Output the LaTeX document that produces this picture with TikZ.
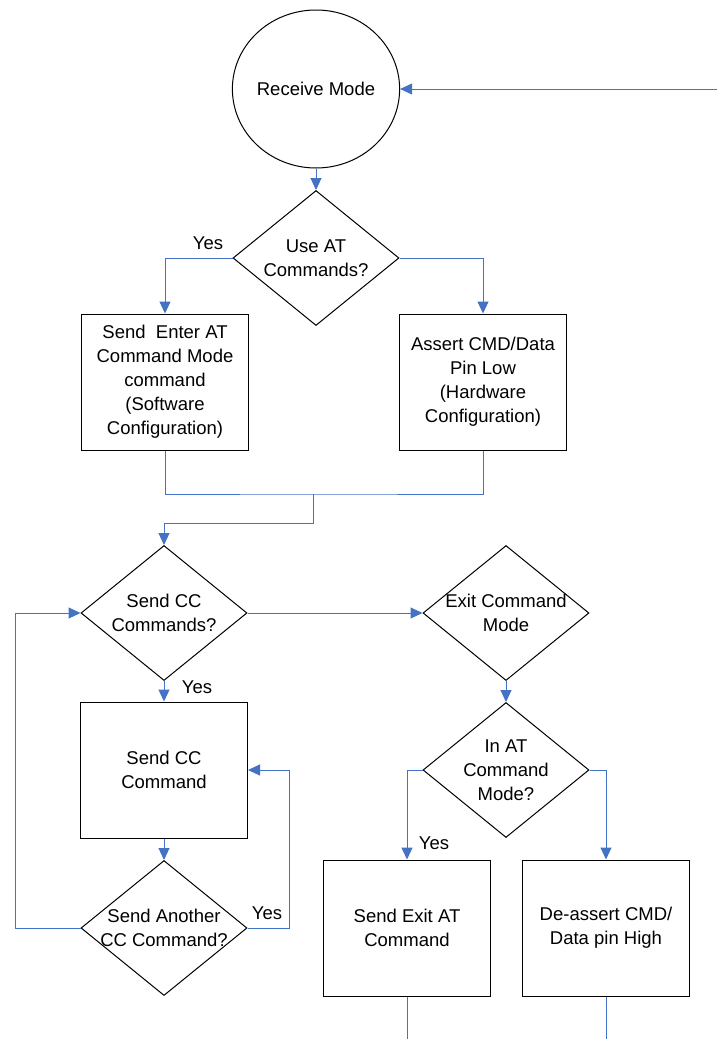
\documentclass[tikz,border=0pt]{standalone}
\usepackage{fontspec}
\setmainfont{Liberation Sans}
\usepackage{tikz}
\usetikzlibrary{shapes.geometric, arrows.meta}
\definecolor{flowblue}{RGB}{68,114,196}

\tikzset{
  base/.style = {draw=black, line width=1pt, font=\fontsize{18.5}{24}\selectfont, align=center, inner sep=0pt},
  startnode/.style = {base, ellipse, minimum width=147pt, minimum height=158pt},
  procbox/.style = {base, rectangle, minimum width=167pt, minimum height=136pt},
  decision/.style = {base, diamond, minimum width=166pt, minimum height=135pt},
  dtext/.style = {font=\fontsize{18.5}{24}\selectfont, align=center, inner sep=0pt},
  yeslabel/.style = {font=\fontsize{18.5}{24}\selectfont, inner sep=0pt},
  line/.style = {draw=flowblue, line width=1pt},
  flow/.style = {line, -{Triangle[length=12pt, width=11pt]}}
}

\begin{document}
\begin{tikzpicture}[x=1pt, y=-1pt]
\useasboundingbox (0,0) rectangle (717,1039);

% upper part
\node[startnode] (recv) at (316,89) {Receive Mode};
\node[decision, label={[dtext]center:Use AT\\Commands?}] (use) at (316,258) {};
\node[procbox] (enter) at (165,382) {Send\ \ Enter AT\\Command Mode\\command\\(Software\\Configuration)};
\node[procbox] (assert) at (483,382) {Assert CMD/Data\\Pin Low\\(Hardware\\Configuration)};

% left loop
\node[decision, label={[dtext]center:Send CC\\Commands?}] (cc) at (164,613) {};
\node[procbox] (sendcc) at (164,770) {Send CC\\Command};
\node[decision, label={[dtext]center:Send Another\\CC Command?}] (another) at (164,928) {};

% exit branch
\node[decision, label={[dtext]center:Exit Command\\Mode}] (exitq) at (506,613) {};
\node[decision, label={[dtext]center:In AT\\Command\\Mode?}] (inat) at (506,770) {};
\node[procbox] (exitat) at (407,928) {Send Exit AT\\Command};
\node[procbox] (deassert) at (606,928) {De-assert CMD/\\Data pin High};

% labels
\node[yeslabel] (y1) at (208,243) {Yes};
\node[yeslabel] (y2) at (197,687) {Yes};
\node[yeslabel] (y3) at (267,913) {Yes};
\node[yeslabel] (y4) at (434,843) {Yes};

% helper points
\coordinate (back) at (717,89);
\coordinate (j1) at (313,494);
\coordinate (j2) at (313,523);
\coordinate (lp) at (15,928);
\coordinate (rp) at (289,928);
\coordinate (e1) at (407,1039);
\coordinate (e2) at (606,1039);

% connectors
\draw[flow] (back) -- (recv.east);
\draw[flow] (recv) -- (use);
\draw[flow] (use.west) -| (enter.north);
\draw[flow] (use.east) -| (assert.north);
\draw[line] (enter.south) |- (j1) -| (assert.south);
\draw[flow] (j1) -- (j2) -| (cc.north);
\draw[flow] (cc) -- (sendcc);
\draw[flow] (sendcc) -- (another);
\draw[flow] (another.west) -- (lp) |- (cc.west);
\draw[flow] (another.east) -- (rp) |- (sendcc.east);
\draw[flow] (cc.east) -- (exitq.west);
\draw[flow] (exitq) -- (inat);
\draw[flow] (inat.west) -| (exitat.north);
\draw[flow] (inat.east) -| (deassert.north);
\draw[line] (exitat) -- (e1);
\draw[line] (deassert) -- (e2);
\end{tikzpicture}
\end{document}
